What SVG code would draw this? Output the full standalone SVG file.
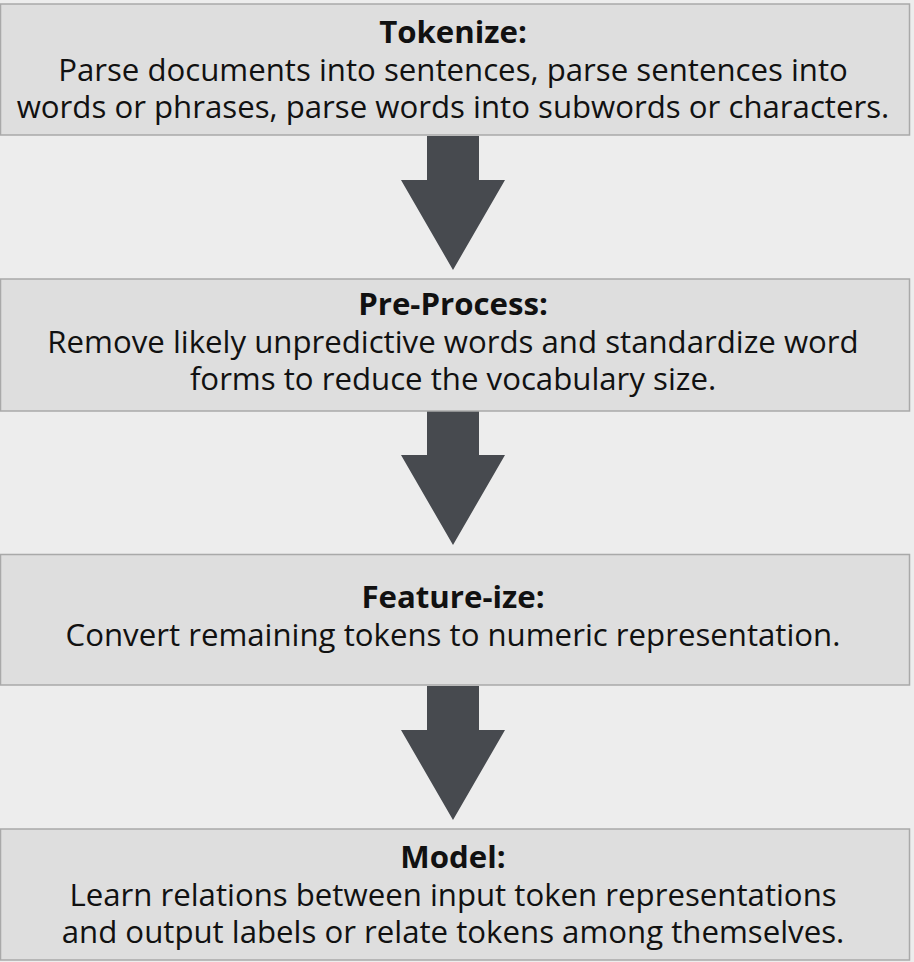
<svg xmlns="http://www.w3.org/2000/svg" width="914" height="962" viewBox="0 0 914 962">
<style>
.box{fill:#dedede;stroke:#a9a9a9;stroke-width:1.5}
.t{font-family:"Open Sans","Noto Sans",sans-serif;font-size:31.2px;fill:#111;text-anchor:middle}
.h{font-weight:bold}
.arr{fill:#474a4f}
</style>
<rect x="0" y="0" width="914" height="962" fill="#ededed"/>
<g id="connectors">
<polygon class="arr" points="427,136 479,136 479,180 505,180 453,270 401,180 427,180"/>
<polygon class="arr" points="427,411 479,411 479,455 505,455 453,545 401,455 427,455"/>
<polygon class="arr" points="427,686 479,686 479,730 505,730 453,820 401,730 427,730"/>
</g>
<g id="tokenize">
<rect class="box" x="0.5" y="4" width="909" height="131"/>
<text class="t h" x="453" y="43">Tokenize:</text>
<text class="t" x="453" y="81">Parse documents into sentences, parse sentences into</text>
<text class="t" x="453" y="118">words or phrases, parse words into subwords or characters.</text>
</g>
<g id="preprocess">
<rect class="box" x="0.5" y="279" width="909" height="132"/>
<text class="t h" x="453" y="315">Pre-Process:</text>
<text class="t" x="453" y="353">Remove likely unpredictive words and standardize word</text>
<text class="t" x="453" y="390">forms to reduce the vocabulary size.</text>
</g>
<g id="featureize">
<rect class="box" x="0.5" y="554.5" width="909" height="130.5"/>
<text class="t h" x="453" y="608">Feature-ize:</text>
<text class="t" x="453" y="646">Convert remaining tokens to numeric representation.</text>
</g>
<g id="model">
<rect class="box" x="0.5" y="829" width="909" height="131"/>
<text class="t h" x="453" y="868">Model:</text>
<text class="t" x="453" y="906">Learn relations between input token representations</text>
<text class="t" x="453" y="943">and output labels or relate tokens among themselves.</text>
</g>
</svg>
